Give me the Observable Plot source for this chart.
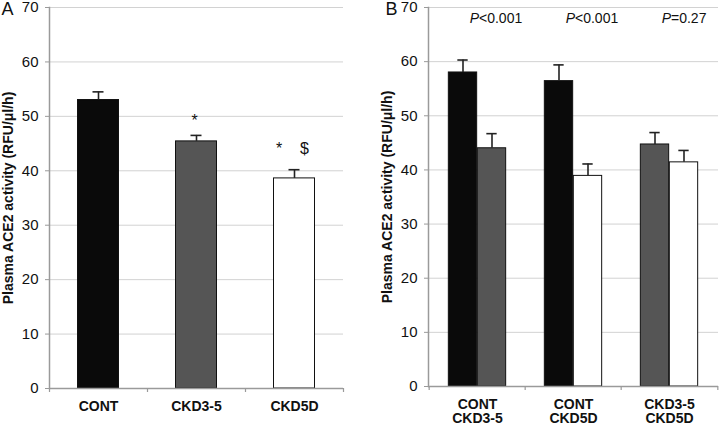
<!DOCTYPE html>
<html><head><meta charset="utf-8">
<script src="https://cdn.jsdelivr.net/npm/d3@7"></script>
<script src="https://cdn.jsdelivr.net/npm/@observablehq/plot@0.6"></script>
<style>
body{margin:0;background:#fff;}
#wrap{display:flex;width:720px;height:426px;overflow:hidden;}
</style></head><body><div id="wrap"></div>
<script>
// ---- data ----
const seriesNames = ["CONT", "CKD3-5", "CKD5D"];
const seriesColors = ["#0a0a0a", "#555555", "#ffffff"];
const yTicks = [0, 10, 20, 30, 40, 50, 60, 70];

// Panel A
const groupsA = ["CONT", "CKD3-5", "CKD5D"];
const valuesA = [53.0, 45.4, 38.6];
const errorsA = [1.5, 1.1, 1.6];
const annotGroupsA = ["CKD3-5", "CKD5D"];
const annotTextA = ["*", "*\u00a0\u00a0\u00a0\u00a0$"];
const annotYA = [49.2, 44.1];

// Panel B
const groupsB = ["CONT\nCKD3-5", "CONT\nCKD5D", "CKD3-5\nCKD5D"];
const leftSeriesB = ["CONT", "CONT", "CKD3-5"];
const leftValuesB = [58.0, 56.4, 44.7];
const leftErrorsB = [2.3, 3.0, 2.2];
const rightSeriesB = ["CKD3-5", "CKD5D", "CKD5D"];
const rightValuesB = [44.0, 38.9, 41.4];
const rightErrorsB = [2.7, 2.2, 2.2];
const pSymbolB = ["P", "P", "P"];
const pRestB = ["<0.001", "<0.001", "=0.27"];
const pYB = 68;

const yLabel = "Plasma ACE2 activity (RFU/\u03bcl/h)";

// ---- build ----
const FONT = "'Liberation Sans', Arial, Helvetica, sans-serif";
const W = 360, H = 426, MT = 7;
const colorOpts = {domain: seriesNames, range: seriesColors};
const gridStroke = "#d2d2d2", axisStroke = "#9a9a9a", errStroke = "#222";
const capW = 11;

function commonMarks(groups, bw) {
  return [
    Plot.ruleY([0], {stroke: axisStroke, strokeWidth: 1.5}),
    Plot.frame({anchor: "left", stroke: axisStroke, strokeWidth: 1.5}),
    Plot.ruleX(groups, {x: d => d, dx: -bw / 2, y1: 0, y2: 0, insetBottom: -4, stroke: axisStroke, strokeWidth: 1.2}),
    Plot.ruleX([groups[groups.length - 1]], {x: d => d, dx: bw / 2, y1: 0, y2: 0, insetBottom: -4, stroke: axisStroke, strokeWidth: 1.2}),
    Plot.axisY({ticks: yTicks, tickSize: 4, tickPadding: 7, label: null, stroke: axisStroke, fill: "#111", fontSize: 15}),
    Plot.axisX({tickSize: 0, tickPadding: 12, label: null, fontWeight: "bold", fontSize: 14, fill: "#111", lineHeight: 1.02}),
    Plot.text([yLabel], {frameAnchor: "left", rotate: -90, dx: -40.5, textAnchor: "middle", lineAnchor: "middle", fontWeight: "bold", fontSize: 14, fill: "#111"})
  ];
}

// Panel A
const mlA = 49, mrA = 17, mbA = 38;
const bwA = (W - mlA - mrA) / groupsA.length;
const barWA = 41;
const insA = (bwA - barWA) / 2;
const dataA = groupsA.map((g, i) => ({group: g, series: g, value: valuesA[i], err: errorsA[i]}));
const annA = annotGroupsA.map((g, i) => ({group: g, text: annotTextA[i], y: annotYA[i]}));

const plotA = Plot.plot({
  width: W, height: H,
  marginLeft: mlA, marginRight: mrA, marginTop: MT, marginBottom: mbA,
  style: {fontFamily: FONT, fontSize: "15px", color: "#111", background: "#fff", overflow: "visible"},
  x: {domain: groupsA, padding: 0},
  y: {domain: [0, 70]},
  color: colorOpts,
  marks: [
    Plot.gridY(yTicks.slice(1), {stroke: gridStroke, strokeOpacity: 1}),
    Plot.barY(dataA, {x: "group", y: "value", fill: "series", stroke: "#111", strokeWidth: 1, insetLeft: insA, insetRight: insA}),
    Plot.ruleX(dataA, {x: "group", y1: "value", y2: d => d.value + d.err, stroke: errStroke, strokeWidth: 1.6}),
    Plot.tickY(dataA, {x: "group", y: d => d.value + d.err, stroke: errStroke, strokeWidth: 1.6, insetLeft: (bwA - capW) / 2, insetRight: (bwA - capW) / 2}),
    ...commonMarks(groupsA, bwA),
    Plot.text(annA, {x: "group", y: "y", text: "text", fontSize: 16, fill: "#111", dx: -2}),
    Plot.text(["A"], {frameAnchor: "top-left", dx: -48, dy: 2, textAnchor: "start", lineAnchor: "middle", fontSize: 18, fill: "#111"})
  ]
});

// Panel B
const mlB = 68, mrB = 2, mbB = 40;
const bwB = (W - mlB - mrB) / groupsB.length;
const barWB = 29;
const outerB = (bwB - 2 * barWB) / 2;
const leftB = groupsB.map((g, i) => ({group: g, series: leftSeriesB[i], value: leftValuesB[i], err: leftErrorsB[i]}));
const rightB = groupsB.map((g, i) => ({group: g, series: rightSeriesB[i], value: rightValuesB[i], err: rightErrorsB[i]}));
const pData = groupsB.map((g, i) => ({group: g, sym: pSymbolB[i], rest: pRestB[i], y: pYB}));
const offB = barWB / 2;
const capIn1 = outerB + barWB / 2 - capW / 2;
const capIn2 = bwB - capIn1 - capW;

const plotB = Plot.plot({
  width: W, height: H,
  marginLeft: mlB, marginRight: mrB, marginTop: MT, marginBottom: mbB,
  style: {fontFamily: FONT, fontSize: "15px", color: "#111", background: "#fff", overflow: "visible"},
  x: {domain: groupsB, padding: 0},
  y: {domain: [0, 70]},
  color: colorOpts,
  marks: [
    Plot.gridY(yTicks.slice(1), {stroke: gridStroke, strokeOpacity: 1}),
    Plot.barY(leftB, {x: "group", y: "value", fill: "series", stroke: "#111", strokeWidth: 1, insetLeft: outerB, insetRight: bwB - outerB - barWB}),
    Plot.barY(rightB, {x: "group", y: "value", fill: "series", stroke: "#111", strokeWidth: 1, insetLeft: bwB - outerB - barWB, insetRight: outerB}),
    Plot.ruleX(leftB, {x: "group", y1: "value", y2: d => d.value + d.err, dx: -offB, stroke: errStroke, strokeWidth: 1.6}),
    Plot.ruleX(rightB, {x: "group", y1: "value", y2: d => d.value + d.err, dx: offB, stroke: errStroke, strokeWidth: 1.6}),
    Plot.tickY(leftB, {x: "group", y: d => d.value + d.err, stroke: errStroke, strokeWidth: 1.6, insetLeft: capIn1, insetRight: capIn2}),
    Plot.tickY(rightB, {x: "group", y: d => d.value + d.err, stroke: errStroke, strokeWidth: 1.6, insetLeft: capIn2, insetRight: capIn1}),
    ...commonMarks(groupsB, bwB),
    Plot.text(pData, {x: "group", y: "y", text: "sym", textAnchor: "end", fontStyle: "italic", fontSize: 14, fill: "#111", dx: 1.5}),
    Plot.text(pData, {x: "group", y: "y", text: "rest", textAnchor: "start", fontSize: 14, fill: "#111", dx: 1.5}),
    Plot.text(["B"], {frameAnchor: "top-left", dx: -43, dy: 2, textAnchor: "start", lineAnchor: "middle", fontSize: 18, fill: "#111"})
  ]
});

const wrap = document.getElementById("wrap");
wrap.appendChild(plotA);
wrap.appendChild(plotB);
</script>
</body></html>
